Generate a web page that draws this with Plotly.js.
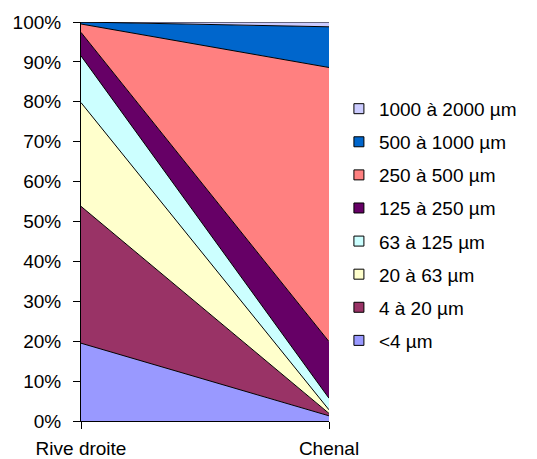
<!DOCTYPE html>
<html>
<head>
<meta charset="utf-8">
<script src="https://cdn.plot.ly/plotly-3.0.1.min.js"></script>
<style>html,body{margin:0;padding:0;background:#fff;}#chart{width:537px;height:459px;}</style>
</head>
<body>
<div id="chart"></div>
<script>
const categories = ['Rive droite', 'Chenal'];
const seriesNames = ['<4 µm', '4 à 20 µm', '20 à 63 µm', '63 à 125 µm', '125 à 250 µm', '250 à 500 µm', '500 à 1000 µm', '1000 à 2000 µm'];
const lt4 = [19.5, 1.3];
const s4to20 = [34.3, 0.6];
const s20to63 = [26.0, 0.9];
const s63to125 = [11.7, 2.9];
const s125to250 = [5.9, 14.2];
const s250to500 = [2.1, 68.7];
const s500to1000 = [0.5, 10.2];
const s1000to2000 = [0.0, 1.2];
const colors = ['#9999FF', '#993366', '#FFFFCC', '#CCFFFF', '#660066', '#FF8080', '#0066CC', '#CCCCFF'];
const yTickVals = [0, 10, 20, 30, 40, 50, 60, 70, 80, 90, 100];

const allSeries = [lt4, s4to20, s20to63, s63to125, s125to250, s250to500, s500to1000, s1000to2000];
const font = {family: 'Arial, "Liberation Sans", sans-serif', size: 19, color: '#000'};

const traces = [];
allSeries.forEach((vals, i) => {
  traces.push({
    type: 'scatter', mode: 'lines', x: categories, y: vals,
    stackgroup: 'one', fill: 'tonexty', fillcolor: colors[i],
    line: {color: '#000', width: 1}, name: seriesNames[i],
    showlegend: false, hoverinfo: 'skip'
  });
});
for (let i = allSeries.length - 1; i >= 0; i--) {
  traces.push({
    type: 'scatter', mode: 'markers', x: [null], y: [null],
    name: seriesNames[i], legendgroup: 'g' + i, showlegend: true,
    marker: {symbol: 'square', size: 10, color: colors[i], line: {color: '#000', width: 1}},
    hoverinfo: 'skip'
  });
}

const layout = {
  width: 537, height: 459,
  margin: {l: 81, r: 208, t: 22, b: 38},
  paper_bgcolor: '#fff', plot_bgcolor: '#fff',
  font: font,
  showlegend: true,
  legend: {x: 1.04, xanchor: 'left', y: 0.83, yanchor: 'top', font: font,
           tracegroupgap: 5.4, bgcolor: 'rgba(0,0,0,0)', traceorder: 'grouped'},
  xaxis: {type: 'category', range: [0, 1], showgrid: false, zeroline: false,
          showline: true, linecolor: '#000', linewidth: 1,
          ticks: 'outside', ticklen: 7, tickcolor: '#000', ticklabelstandoff: 3,
          tickfont: font, fixedrange: true},
  yaxis: {range: [0, 100], tickvals: yTickVals, ticktext: yTickVals.map(v => v + '%'),
          showgrid: false, zeroline: false, showline: true, linecolor: '#000', linewidth: 1,
          ticks: 'outside', ticklen: 7, tickcolor: '#000', ticklabelstandoff: 8,
          tickfont: font, fixedrange: true},
  yaxis2: {overlaying: 'y', side: 'right', range: [0, 100], showline: true,
           linecolor: '#808080', linewidth: 1, showticklabels: false, ticks: '',
           showgrid: false, zeroline: false, fixedrange: true}
};

Plotly.newPlot('chart', traces, layout, {displayModeBar: false, staticPlot: true});
</script>
</body>
</html>
